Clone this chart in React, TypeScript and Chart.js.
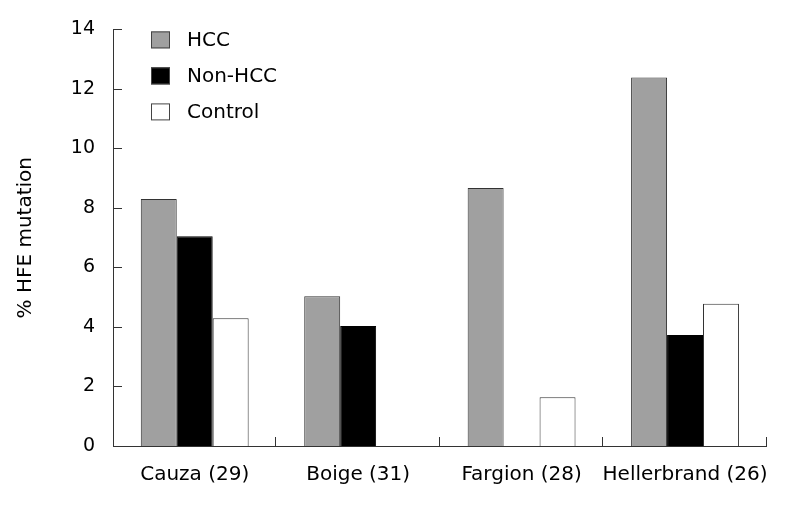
import React, { useEffect, useRef } from "react";
import { Chart, registerables } from "chart.js";

Chart.register(...registerables);

const categories = ["Cauza (29)", "Boige (31)", "Fargion (28)", "Hellerbrand (26)"];
const hccValues = [8.3, 5.03, 8.67, 12.38];
const nonHccValues = [7.05, 4.03, 0, 3.73];
const controlValues = [4.29, 0, 1.64, 4.78];
const yTicks = [0, 2, 4, 6, 8, 10, 12, 14];

const FONT = "'DejaVu Sans', sans-serif";

const customPlugin = {
  id: "customDecor",
  afterDraw(chart: any) {
    const ctx = chart.ctx;
    const area = chart.chartArea;
    const xs = chart.scales.x;
    const ys = chart.scales.y;
    ctx.save();
    ctx.strokeStyle = "#333";
    ctx.lineWidth = 1;
    // inward y ticks
    ys.ticks.forEach((_t: any, i: number) => {
      const py = Math.round(ys.getPixelForTick(i)) + 0.5;
      ctx.beginPath();
      ctx.moveTo(area.left, py);
      ctx.lineTo(area.left + 9, py);
      ctx.stroke();
    });
    // inward x ticks at category boundaries
    const n = chart.data.labels.length;
    for (let i = 1; i <= n; i++) {
      const px = Math.round(xs.left + (xs.width * i) / n) - 0.5;
      ctx.beginPath();
      ctx.moveTo(px, area.bottom);
      ctx.lineTo(px, area.bottom - 9);
      ctx.stroke();
    }
    // legend
    ctx.font = `20px ${FONT}`;
    ctx.textBaseline = "middle";
    ctx.textAlign = "left";
    chart.data.datasets.forEach((ds: any, i: number) => {
      const bx = area.left + 38;
      const by = area.top + 2 + i * 36;
      ctx.fillStyle = ds.backgroundColor;
      ctx.fillRect(bx, by, 19, 17);
      ctx.strokeStyle = "#444";
      ctx.strokeRect(bx + 0.5, by + 0.5, 18, 16);
      ctx.fillStyle = "#000";
      ctx.fillText(ds.label, bx + 36, by + 9);
    });
    ctx.restore();
  },
};

export default function App() {
  const ref = useRef<HTMLCanvasElement | null>(null);
  useEffect(() => {
    if (!ref.current) return;
    const chart = new Chart(ref.current, {
      type: "bar",
      data: {
        labels: categories,
        datasets: [
          { label: "HCC", data: hccValues, backgroundColor: "#a0a0a0", borderColor: "#333", borderWidth: 1 },
          { label: "Non-HCC", data: nonHccValues, backgroundColor: "#000000", borderColor: "#000", borderWidth: 1 },
          { label: "Control", data: controlValues, backgroundColor: "#ffffff", borderColor: "#333", borderWidth: 1 },
        ],
      },
      options: {
        responsive: false,
        animation: false,
        devicePixelRatio: 1,
        layout: { padding: { top: 28, right: 20, left: 0, bottom: 0 } },
        plugins: { legend: { display: false }, tooltip: { enabled: false } },
        datasets: { bar: { categoryPercentage: 0.66, barPercentage: 1 } },
        scales: {
          x: {
            grid: { display: false, drawTicks: false },
            border: { display: true, color: "#333", width: 1 },
            ticks: { color: "#000", font: { family: FONT, size: 20 }, padding: 17, maxRotation: 0, autoSkip: false },
            afterFit: (s: any) => { s.height = 60; },
          },
          y: {
            min: 0,
            max: 14,
            afterBuildTicks: (s: any) => { s.ticks = yTicks.map((v) => ({ value: v })); },
            grid: { display: false, drawTicks: false },
            border: { display: true, color: "#333", width: 1 },
            ticks: { color: "#000", font: { family: FONT, size: 19 }, padding: 18 },
            title: { display: true, text: "% HFE mutation", color: "#000", font: { family: FONT, size: 20 }, padding: { top: 14, bottom: 0 } },
            afterFit: (s: any) => { s.width = 113; },
          },
        },
      },
      plugins: [customPlugin],
    });
    return () => chart.destroy();
  }, []);
  return (
    <div style={{ position: "fixed", left: 0, top: 0, width: 787, height: 506, background: "#fff" }}>
      <canvas ref={ref} width={787} height={506} style={{ display: "block" }} />
    </div>
  );
}
